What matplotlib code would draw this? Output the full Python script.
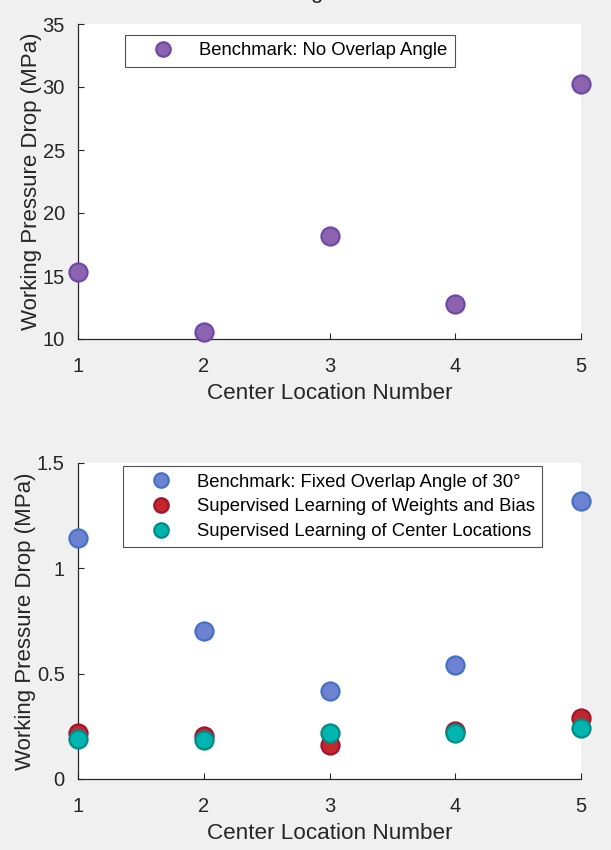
import matplotlib
matplotlib.use("Agg")
import matplotlib.pyplot as plt

plt.rcParams['font.family'] = ['Liberation Sans', 'DejaVu Sans']

x = [1, 2, 3, 4, 5]
no_overlap = [15.28, 10.55, 18.15, 12.8, 30.23]
fixed_overlap = [1.146, 0.703, 0.417, 0.54, 1.318]
weights_bias = [0.218, 0.205, 0.161, 0.228, 0.288]
center_loc = [0.188, 0.185, 0.217, 0.22, 0.243]

top_yticks = [10, 15, 20, 25, 30, 35]
bot_yticks = [0, 0.5, 1, 1.5]
bot_yticklabels = ['0', '0.5', '1', '1.5']
xlabel = 'Center Location Number'
ylabel = 'Working Pressure Drop (MPa)'

fig = plt.figure(figsize=(6.11, 8.5), dpi=100)
fig.patch.set_facecolor('#F0F0F0')

ax1 = fig.add_axes([78/611, 1-339/850, 503/611, 315/850])
ax2 = fig.add_axes([78/611, 1-779/850, 503/611, 316/850])

def style(ax):
    ax.set_facecolor('white')
    for s in ['top', 'right']:
        ax.spines[s].set_visible(False)
    for s in ['left', 'bottom']:
        ax.spines[s].set_color('#262626')
        ax.spines[s].set_linewidth(0.9)
    ax.tick_params(direction='in', length=4, width=0.8, color='#262626',
                   labelsize=14.5, labelcolor='#262626')
    ax.tick_params(axis='x', pad=13)
    ax.tick_params(axis='y', pad=9.5)
    ax.set_xlim(1, 5)
    ax.set_xticks(x)
    ax.set_xlabel(xlabel, fontsize=16.2, color='#262626', labelpad=5)
    ax.set_ylabel(ylabel, fontsize=16, color='#262626', labelpad=0.5)

ms = 13
mew = 1.6
leg_kw = dict(loc='upper left', fontsize=13.3, frameon=True, fancybox=False,
              edgecolor='#262626', borderaxespad=0, handlelength=3.3,
              handletextpad=0.3, borderpad=0.4, markerscale=0.8)

ax1.plot(x, no_overlap, 'o', ms=ms, mew=mew, mfc='#8D62AE', mec='#6E4AA8',
         clip_on=False, label='Benchmark: No Overlap Angle', zorder=3)
ax1.set_ylim(10, 35)
ax1.set_yticks(top_yticks)
style(ax1)
leg1 = ax1.legend(bbox_to_anchor=(0.0934, 0.965), **leg_kw)
leg1.get_frame().set_linewidth(0.8)

ax2.plot(x, fixed_overlap, 'o', ms=ms, mew=mew, mfc='#6D82D0', mec='#4472C4',
         clip_on=False, label='Benchmark: Fixed Overlap Angle of 30°', zorder=3)
ax2.plot(x, weights_bias, 'o', ms=ms, mew=mew, mfc='#C1272D', mec='#A2142F',
         clip_on=False, label='Supervised Learning of Weights and Bias', zorder=3)
ax2.plot(x, center_loc, 'o', ms=ms, mew=mew, mfc='#00B5B0', mec='#008B85',
         clip_on=False, label='Supervised Learning of Center Locations', zorder=3)
ax2.set_ylim(0, 1.5)
ax2.set_yticks(bot_yticks)
ax2.set_yticklabels(bot_yticklabels)
style(ax2)
leg2 = ax2.legend(bbox_to_anchor=(0.0895, 0.99), labelspacing=0.42, **leg_kw)
leg2.get_frame().set_linewidth(0.8)

fig.text(0.508, 1.0 + 2/850, 'g', fontsize=16, color='#262626', ha='left', va='baseline')

fig.savefig('out.png', dpi=100, facecolor=fig.get_facecolor())
